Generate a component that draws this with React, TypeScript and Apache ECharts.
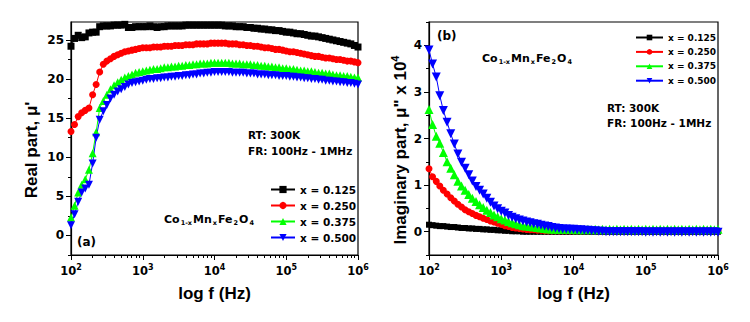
import React, { useEffect, useRef } from "react";
import * as echarts from "echarts";

// Frequencies (Hz), log-spaced measurement points 100 Hz – 1 MHz
const freqHz = [
  100, 112, 126, 141, 158, 178, 200, 224, 251, 282, 316, 355, 398, 447, 501, 562, 631, 708, 794, 891,
  1000, 1122, 1259, 1413, 1585, 1778, 1995, 2239, 2512, 2818, 3162, 3548, 3981, 4467, 5012, 5623, 6310, 7079, 7943, 8913,
  10000, 11220, 12589, 14125, 15849, 17783, 19953, 22387, 25119, 28184, 31623, 35481, 39811, 44668, 50119, 56234, 63096, 70795, 79433, 89125,
  100000, 112202, 125893, 141254, 158489, 177828, 199526, 223872, 251189, 281838, 316228, 354813, 398107, 446684, 501187, 562341, 630957, 707946, 794328, 891251,
  1000000,
];

const seriesNames = ["x = 0.125", "x = 0.250", "x = 0.375", "x = 0.500"];

// (a) Real part μ'
const realX0125 = [
  24.2, 25.2, 25.6, 25.3, 25.4, 25.9, 26.0, 26.0, 26.7, 26.8, 26.8, 26.8, 26.9, 26.9, 26.9, 27.0, 26.6, 26.6, 26.7, 26.7,
  26.7, 26.7, 26.8, 26.7, 26.6, 26.7, 26.7, 26.8, 26.8, 26.8, 26.8, 26.8, 26.9, 26.9, 26.9, 26.9, 26.9, 26.9, 26.9, 26.9,
  26.9, 26.9, 26.9, 26.8, 26.8, 26.8, 26.7, 26.7, 26.7, 26.6, 26.6, 26.5, 26.5, 26.4, 26.4, 26.3, 26.3, 26.2, 26.2, 26.1,
  26.0, 26.0, 25.9, 25.8, 25.8, 25.7, 25.6, 25.5, 25.5, 25.4, 25.3, 25.2, 25.1, 25.0, 24.9, 24.8, 24.7, 24.6, 24.5, 24.3,
  24.1,
];
const realX0250 = [
  13.3, 14.2, 15.2, 15.7, 16.0, 16.3, 18.0, 19.3, 20.9, 21.9, 22.3, 22.6, 22.9, 23.1, 23.3, 23.5, 23.6, 23.7, 23.8, 23.9,
  24.0, 24.0, 24.0, 24.1, 24.1, 24.1, 24.2, 24.2, 24.2, 24.3, 24.3, 24.3, 24.4, 24.4, 24.4, 24.5, 24.5, 24.5, 24.5, 24.6,
  24.6, 24.6, 24.6, 24.6, 24.5, 24.5, 24.5, 24.4, 24.4, 24.3, 24.3, 24.2, 24.2, 24.1, 24.0, 24.0, 23.9, 23.8, 23.8, 23.7,
  23.6, 23.5, 23.5, 23.4, 23.3, 23.2, 23.1, 23.0, 22.9, 22.9, 22.8, 22.7, 22.7, 22.6, 22.5, 22.5, 22.4, 22.3, 22.3, 22.2,
  22.1,
];
const realX0375 = [
  2.3, 3.8, 5.5, 6.5, 7.2, 8.4, 10.5, 13.2, 16.3, 17.2, 18.0, 18.7, 19.2, 19.6, 19.9, 20.2, 20.4, 20.6, 20.8, 20.9,
  21.0, 21.1, 21.2, 21.3, 21.3, 21.4, 21.5, 21.5, 21.6, 21.6, 21.7, 21.7, 21.8, 21.8, 21.9, 21.9, 22.0, 22.0, 22.0, 22.1,
  22.1, 22.1, 22.1, 22.1, 22.1, 22.0, 22.0, 22.0, 21.9, 21.9, 21.9, 21.8, 21.8, 21.7, 21.7, 21.6, 21.6, 21.5, 21.5, 21.4,
  21.4, 21.3, 21.3, 21.2, 21.1, 21.1, 21.0, 21.0, 20.9, 20.8, 20.8, 20.7, 20.7, 20.6, 20.5, 20.5, 20.4, 20.4, 20.3, 20.2,
  20.2,
];
const realX0500 = [
  1.3, 2.7, 4.3, 5.5, 6.0, 6.5, 9.2, 12.5, 14.8, 15.9, 16.7, 17.5, 18.0, 18.4, 18.7, 19.0, 19.3, 19.5, 19.6, 19.7,
  19.8, 19.9, 20.0, 20.0, 20.1, 20.1, 20.2, 20.2, 20.3, 20.3, 20.4, 20.4, 20.5, 20.5, 20.6, 20.6, 20.7, 20.7, 20.8, 20.8,
  20.9, 20.9, 20.9, 20.9, 20.9, 20.8, 20.8, 20.8, 20.8, 20.7, 20.7, 20.7, 20.6, 20.6, 20.6, 20.5, 20.5, 20.5, 20.4, 20.4,
  20.4, 20.3, 20.3, 20.2, 20.2, 20.1, 20.1, 20.0, 20.0, 19.9, 19.9, 19.8, 19.8, 19.7, 19.7, 19.6, 19.6, 19.5, 19.5, 19.4,
  19.3,
];

// (b) Imaginary part μ'' (x 10^4)
const imagX0125 = [
  0.15, 0.14, 0.13, 0.12, 0.12, 0.11, 0.10, 0.10, 0.09, 0.08, 0.08, 0.07, 0.07, 0.06, 0.06, 0.05, 0.05, 0.04, 0.04, 0.03,
  0.03, 0.02, 0.02, 0.01, 0.01, 0.01, 0.00, 0.00, 0.00, 0.00, 0.00, 0.00, 0.00, 0.00, 0.00, 0.00, 0.00, 0.00, 0.00, 0.00,
  0.00, 0.00, 0.00, 0.00, 0.00, 0.00, 0.00, 0.00, 0.00, 0.00, 0.00, 0.00, 0.00, 0.00, 0.00, 0.00, 0.00, 0.00, 0.00, 0.00,
  0.00, 0.00, 0.00, 0.00, 0.00, 0.00, 0.00, 0.00, 0.00, 0.00, 0.00, 0.00, 0.00, 0.00, 0.00, 0.00, 0.00, 0.00, 0.00, 0.00,
  0.00,
];
const imagX0250 = [
  1.35, 1.18, 1.08, 0.98, 0.89, 0.81, 0.73, 0.66, 0.59, 0.53, 0.47, 0.43, 0.39, 0.35, 0.32, 0.29, 0.26, 0.23, 0.21, 0.18,
  0.16, 0.13, 0.11, 0.09, 0.08, 0.07, 0.06, 0.05, 0.04, 0.04, 0.03, 0.03, 0.02, 0.02, 0.02, 0.02, 0.02, 0.02, 0.02, 0.02,
  0.02, 0.02, 0.02, 0.02, 0.02, 0.02, 0.02, 0.02, 0.02, 0.02, 0.02, 0.02, 0.02, 0.02, 0.02, 0.02, 0.02, 0.02, 0.02, 0.02,
  0.02, 0.02, 0.02, 0.02, 0.02, 0.02, 0.02, 0.02, 0.02, 0.02, 0.02, 0.02, 0.02, 0.02, 0.02, 0.02, 0.02, 0.02, 0.02, 0.02,
  0.02,
];
const imagX0375 = [
  2.62, 2.30, 2.05, 1.90, 1.70, 1.50, 1.36, 1.22, 1.08, 0.98, 0.89, 0.80, 0.72, 0.65, 0.58, 0.52, 0.46, 0.41, 0.36, 0.32,
  0.28, 0.25, 0.22, 0.19, 0.17, 0.15, 0.13, 0.12, 0.11, 0.10, 0.09, 0.08, 0.07, 0.06, 0.06, 0.05, 0.05, 0.05, 0.05, 0.05,
  0.05, 0.04, 0.05, 0.04, 0.05, 0.04, 0.05, 0.04, 0.05, 0.04, 0.05, 0.04, 0.05, 0.04, 0.05, 0.04, 0.05, 0.04, 0.05, 0.04,
  0.05, 0.04, 0.05, 0.04, 0.05, 0.04, 0.05, 0.04, 0.05, 0.04, 0.05, 0.04, 0.05, 0.04, 0.05, 0.04, 0.05, 0.04, 0.05, 0.04,
  0.05,
];
const imagX0500 = [
  3.90, 3.60, 3.32, 2.92, 2.60, 2.35, 2.10, 1.88, 1.67, 1.49, 1.36, 1.22, 1.09, 0.97, 0.89, 0.81, 0.72, 0.63, 0.55, 0.49,
  0.44, 0.40, 0.35, 0.31, 0.28, 0.25, 0.23, 0.21, 0.19, 0.17, 0.16, 0.14, 0.12, 0.11, 0.09, 0.08, 0.07, 0.06, 0.06, 0.05,
  0.05, 0.04, 0.04, 0.03, 0.03, 0.02, 0.02, 0.01, 0.01, 0.00, 0.00, 0.00, 0.00, 0.00, 0.00, 0.00, 0.00, 0.00, 0.00, 0.00,
  -0.01, 0.00, -0.01, 0.00, -0.01, 0.00, -0.01, 0.00, -0.01, 0.00, -0.01, 0.00, -0.01, 0.00, -0.01, 0.00, -0.01, 0.00, -0.01, 0.00,
  -0.01,
];

// Axis tick values
const xDecades = [2, 3, 4, 5, 6];
const realMajor = [0, 5, 10, 15, 20, 25];
const realMinor = [-2.5, 2.5, 7.5, 12.5, 17.5, 22.5];
const imagMajor = [0, 1, 2, 3, 4];
const imagMinor = [-0.5, 0.5, 1.5, 2.5, 3.5, 4.5];

const colors = ["#000000", "#ff0000", "#00ff00", "#0000ff"];
const symbols = ["rect", "circle", "triangle", "triangle"];
const rotations = [0, 0, 0, 180];

const FONT = "DejaVu Sans";
const TITLE_FONT = "Liberation Sans";

export default function App() {
  const ref = useRef<HTMLDivElement>(null);

  useEffect(() => {
    document.body.style.margin = "0";
    if (!ref.current) return;
    const chart = echarts.init(ref.current, null, { renderer: "svg" });

    const toData = (vals: number[]) => freqHz.map((f, i) => [Math.log10(f), vals[i]]);

    const xMinor: number[] = [];
    for (let d = 2; d < 6; d++) {
      for (let k = 2; k <= 9; k++) xMinor.push(d + Math.log10(k));
    }

    const xMain = (gridIndex: number) => ({
      gridIndex,
      type: "value",
      min: 2,
      max: 6,
      interval: 1,
      axisLine: { onZero: false, lineStyle: { color: "#000", width: 1.2 } },
      axisTick: { length: 5, customValues: xDecades, lineStyle: { color: "#000", width: 1 } },
      axisLabel: {
        customValues: xDecades,
        margin: 8,
        color: "#000",
        formatter: (v: number) => `{b|10}{s|${Math.round(v)}}`,
        rich: {
          b: { fontFamily: FONT, fontWeight: "bold", fontSize: 11.5, color: "#000" },
          s: { fontFamily: FONT, fontWeight: "bold", fontSize: 8, color: "#000", padding: [0, 0, 7, 0] },
        },
      },
      splitLine: { show: false },
    });
    const xMinorAxis = (gridIndex: number) => ({
      gridIndex,
      type: "value",
      min: 2,
      max: 6,
      position: "bottom",
      axisLine: { show: false, onZero: false },
      axisTick: { length: 3, customValues: xMinor, lineStyle: { color: "#000", width: 1 } },
      axisLabel: { show: false },
      splitLine: { show: false },
    });
    const yMain = (gridIndex: number, min: number, max: number, major: number[]) => ({
      gridIndex,
      type: "value",
      min,
      max,
      position: "left",
      axisLine: { show: true, onZero: false, lineStyle: { color: "#000", width: 1.2 } },
      axisTick: { show: true, length: 5, customValues: major, lineStyle: { color: "#000", width: 1 } },
      axisLabel: {
        customValues: major,
        margin: 7,
        color: "#000",
        fontFamily: FONT,
        fontWeight: "bold",
        fontSize: 12,
      },
      splitLine: { show: false },
    });
    const yMinorAxis = (gridIndex: number, min: number, max: number, minor: number[]) => ({
      gridIndex,
      type: "value",
      min,
      max,
      position: "left",
      axisLine: { show: false, onZero: false },
      axisTick: { show: true, length: 3, customValues: minor, lineStyle: { color: "#000", width: 1 } },
      axisLabel: { show: false },
      splitLine: { show: false },
    });

    const realSets = [realX0125, realX0250, realX0375, realX0500];
    const imagSets = [imagX0125, imagX0250, imagX0375, imagX0500];
    const realSizes = [7, 7, 8, 8];
    const imagSizes = [6, 7, 9, 9];

    const series: any[] = [];
    realSets.forEach((vals, i) => {
      series.push({
        type: "line",
        name: seriesNames[i],
        xAxisIndex: 0,
        yAxisIndex: 0,
        data: toData(vals),
        symbol: symbols[i],
        symbolSize: realSizes[i],
        symbolRotate: rotations[i],
        lineStyle: { color: colors[i], width: 1 },
        itemStyle: { color: colors[i] },
        emphasis: { disabled: true },
      });
    });
    imagSets.forEach((vals, i) => {
      series.push({
        type: "line",
        name: seriesNames[i],
        xAxisIndex: 2,
        yAxisIndex: 2,
        data: toData(vals),
        symbol: symbols[i],
        symbolSize: imagSizes[i],
        symbolRotate: rotations[i],
        lineStyle: { color: colors[i], width: 1 },
        itemStyle: { color: colors[i] },
        emphasis: { disabled: true },
      });
    });

    const txt = (x: number, y: number, text: string, size: number, extra: any = {}) => ({
      type: "text",
      x,
      y,
      style: {
        text,
        fontFamily: FONT,
        fontWeight: "bold",
        fontSize: size,
        fill: "#000",
        align: "left",
        verticalAlign: "middle",
        ...extra,
      },
    });
    const formulaRich = {
      s: { fontFamily: FONT, fontWeight: "bold", fontSize: 6.5, fill: "#000", padding: [7, 1, 0, 1] },
    };
    const formula = "Co{s|1-x}Mn{s|x}Fe{s|2}O{s|4}";

    const option: any = {
      animation: false,
      grid: [
        { left: 71, top: 22, width: 287, height: 233, show: true, borderColor: "#000", borderWidth: 1.2, backgroundColor: "transparent" },
        { left: 429, top: 22, width: 289, height: 233, show: true, borderColor: "#000", borderWidth: 1.2, backgroundColor: "transparent" },
      ],
      xAxis: [xMain(0), xMinorAxis(0), xMain(1), xMinorAxis(1)],
      yAxis: [
        yMain(0, -2.5, 27.3, realMajor),
        yMinorAxis(0, -2.5, 27.3, realMinor),
        yMain(1, -0.5, 4.5, imagMajor),
        yMinorAxis(1, -0.5, 4.5, imagMinor),
      ],
      legend: [
        {
          left: 265,
          top: 179,
          orient: "vertical",
          itemWidth: 24,
          itemHeight: 9,
          itemGap: 5,
          selectedMode: false,
          data: seriesNames,
          lineStyle: { width: 2 },
          textStyle: { fontFamily: FONT, fontWeight: "bold", fontSize: 10.5, color: "#000" },
        },
        {
          left: 630,
          top: 28,
          orient: "vertical",
          itemWidth: 27,
          itemHeight: 7,
          itemGap: 5.4,
          selectedMode: false,
          data: seriesNames,
          textStyle: { fontFamily: FONT, fontWeight: "bold", fontSize: 9, color: "#000" },
        },
      ],
      series,
      graphic: [
        {
          type: "text",
          x: 31,
          y: 150,
          rotation: Math.PI / 2,
          style: {
            text: "Real part, μ'",
            fontFamily: TITLE_FONT,
            fontWeight: "bold",
            fontSize: 17,
            fill: "#000",
            align: "center",
            verticalAlign: "middle",
          },
        },
        {
          type: "text",
          x: 400,
          y: 150,
          rotation: Math.PI / 2,
          style: {
            text: 'Imaginary part, μ" x 10{sup|4}',
            fontFamily: TITLE_FONT,
            fontWeight: "bold",
            fontSize: 17,
            fill: "#000",
            align: "center",
            verticalAlign: "middle",
            rich: {
              sup: { fontFamily: TITLE_FONT, fontWeight: "bold", fontSize: 11, fill: "#000", padding: [0, 0, 10, 0] },
            },
          },
        },
        {
          type: "text",
          x: 214.5,
          y: 293,
          style: { text: "log f (Hz)", fontFamily: TITLE_FONT, fontWeight: "bold", fontSize: 17, fill: "#000", align: "center", verticalAlign: "middle" },
        },
        {
          type: "text",
          x: 573.5,
          y: 293,
          style: { text: "log f (Hz)", fontFamily: TITLE_FONT, fontWeight: "bold", fontSize: 17, fill: "#000", align: "center", verticalAlign: "middle" },
        },
        txt(248, 135, "RT: 300K", 10.5),
        txt(248, 151, "FR: 100Hz - 1MHz", 10.5),
        txt(607, 108, "RT: 300K", 10.5),
        txt(607, 123, "FR: 100Hz - 1MHz", 10.5),
        txt(77, 242, "(a)", 12),
        txt(437, 35.5, "(b)", 12),
        txt(164, 219, formula, 11, { rich: formulaRich }),
        txt(482, 58, formula, 11, { rich: formulaRich }),
      ],
    };

    chart.setOption(option);
    return () => chart.dispose();
  }, []);

  return <div ref={ref} style={{ width: 750, height: 322 }} />;
}
